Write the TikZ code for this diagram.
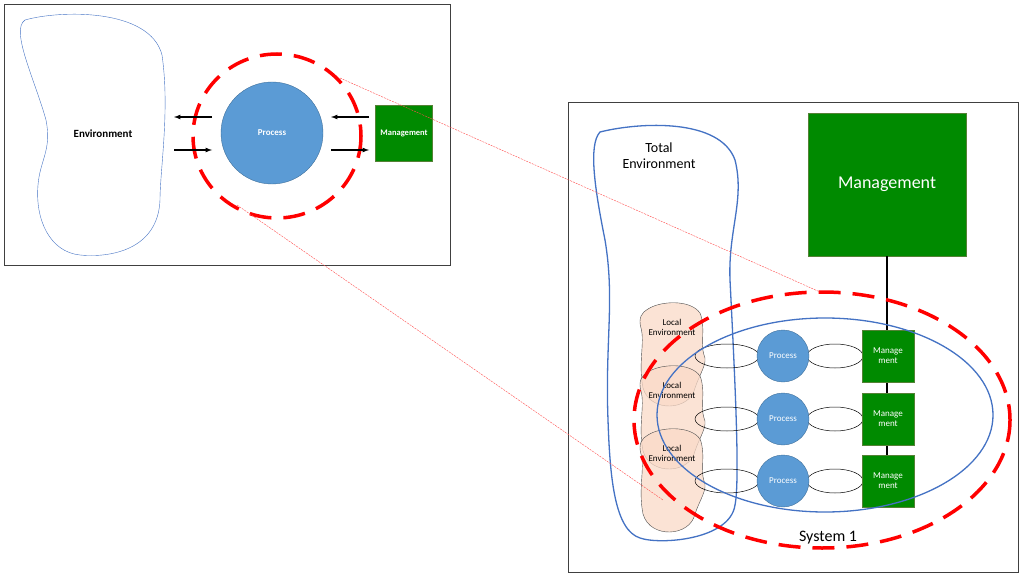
\documentclass[tikz,border=0pt]{standalone}
\usepackage{fontspec}
\setmainfont{Carlito}
\begin{document}
\begin{tikzpicture}[x=1pt,y=-1pt,
  frame/.style={draw=black!75,line width=0.8pt,fill=white},
  blue/.style={draw={rgb,255:red,68;green,114;blue,196}},
  proc/.style={circle,fill={rgb,255:red,91;green,155;blue,213},draw={rgb,255:red,65;green,113;blue,156},text=white,inner sep=0pt},
  mgmt/.style={fill={rgb,255:red,0;green,138;blue,0},draw={rgb,255:red,84;green,130;blue,53},text=white,align=center,inner sep=0pt},
  reddash/.style={draw=red,line width=3.5pt,dash pattern=on 22pt off 12pt},
  thinred/.style={draw=red!70,line width=0.4pt,dash pattern=on 2pt off 1pt},
  lens/.style={draw=black,line width=0.5pt},
  locenv/.style={draw=black!70,line width=0.4pt,fill={rgb,255:red,250;green,218;blue,200},fill opacity=0.75},
  sm/.style={font=\fontsize{9}{10}\selectfont},
  arr/.style={-latex,line width=1.2pt}]
\useasboundingbox (0,0) rectangle (1024,580);
% left panel
\node[frame,minimum width=446pt,minimum height=261pt,inner sep=0pt,anchor=north west] (lp) at (4,4) {};
\draw[blue,line width=0.4pt] (25,20) .. controls (60,10) and (150,8) .. (162,55)
  .. controls (170,110) and (160,170) .. (160,200) .. controls (158,250) and (110,258) .. (80,255)
  .. controls (50,252) and (35,220) .. (38,185) .. controls (40,160) and (52,150) .. (46,120)
  .. controls (35,80) and (10,30) .. (25,20) -- cycle;
\node[font=\fontsize{11}{12}\selectfont\bfseries] (env) at (103,134) {Environment};
\node[proc,minimum size=102pt,font=\fontsize{9}{10}\selectfont\bfseries] (p0) at (272,133) {Process};
\node[mgmt,minimum width=57pt,minimum height=56pt,font=\fontsize{8.5}{10}\selectfont\bfseries] (m0) at (404,133) {Management};
\draw[reddash] (277,136) ellipse (84 and 82);
\coordinate (a1) at (212,117); \coordinate (a1e) at (174,117);
\coordinate (a2) at (174,150); \coordinate (a2e) at (212,150);
\coordinate (a3) at (369,117); \coordinate (a3e) at (331,117);
\coordinate (a4) at (331,150); \coordinate (a4e) at (369,150);
\draw[arr] (a1) -- (a1e); \draw[arr] (a2) -- (a2e);
\draw[arr] (a3) -- (a3e); \draw[arr] (a4) -- (a4e);
% right panel
\node[frame,minimum width=450pt,minimum height=470pt,inner sep=0pt,anchor=north west] (rp) at (568,102) {};
\draw[blue,line width=1.3pt] (600,132) .. controls (640,122) and (720,118) .. (735,160)
  .. controls (745,200) and (728,230) .. (730,280) .. controls (735,380) and (740,480) .. (735,505)
  .. controls (730,540) and (660,545) .. (640,538) .. controls (615,530) and (610,480) .. (608,420)
  .. controls (605,340) and (615,300) .. (605,240) .. controls (595,190) and (588,145) .. (600,132) -- cycle;
\node[align=center,font=\fontsize{14}{16}\selectfont,inner sep=0pt] (te) at (659,156) {Total\\Environment};
\node[mgmt,minimum width=158pt,minimum height=143pt,font=\fontsize{18}{20}\selectfont] (mb) at (887,184.5) {Management};
% local environments
\foreach \y/\n in {303/l1,366/l2,429/l3}{
  \draw[locenv] (648,\y+6) .. controls (660,\y-2) and (690,\y-4) .. (700,\y+10)
   .. controls (706,\y+25) and (700,\y+40) .. (704,\y+52) .. controls (708,\y+60) and (700,\y+70) .. (695,\y+85)
   .. controls (690,\y+108) and (650,\y+110) .. (643,\y+85) .. controls (638,\y+60) and (645,\y+40) .. (641,\y+25)
   .. controls (638,\y+15) and (642,\y+9) .. (648,\y+6) -- cycle;
}
\foreach \y/\n in {327/t1,390/t2,453/t3}{
  \node[sm,align=center,inner sep=0pt] (\n) at (672,\y) {Local\\Environment};
}
% vertical line
\coordinate (vtop) at (887,256); \coordinate (vbot) at (887,455);
\draw[line width=1.5pt] (vtop) -- (vbot);
% lenses
\foreach \y in {356,419,481}{
  \draw[lens] (727,\y) ellipse (32 and 12);
  \draw[lens] (835,\y) ellipse (28 and 12);
}
\foreach \y/\n in {356/1,419/2,481/3}{
  \node[proc,minimum size=52pt,sm] (p\n) at (783,\y) {Process};
  \node[mgmt,minimum width=52pt,minimum height=52pt,sm] (m\n) at (888,\y) {Manage\\ment};
}
\draw[blue,line width=1.3pt] (825,415) ellipse (168 and 97);
\node[fill=white,inner sep=1pt,font=\fontsize{16}{18}\selectfont] (s1) at (828,538) {System 1};
\draw[reddash] (822,420) ellipse (188 and 128);
% thin red lines
\coordinate (r1) at (340,78); \coordinate (r1e) at (820,292);
\coordinate (r2) at (237,205); \coordinate (r2e) at (663,500);
\draw[thinred] (r1) -- (r1e);
\draw[thinred] (r2) -- (r2e);
\end{tikzpicture}
\end{document}
